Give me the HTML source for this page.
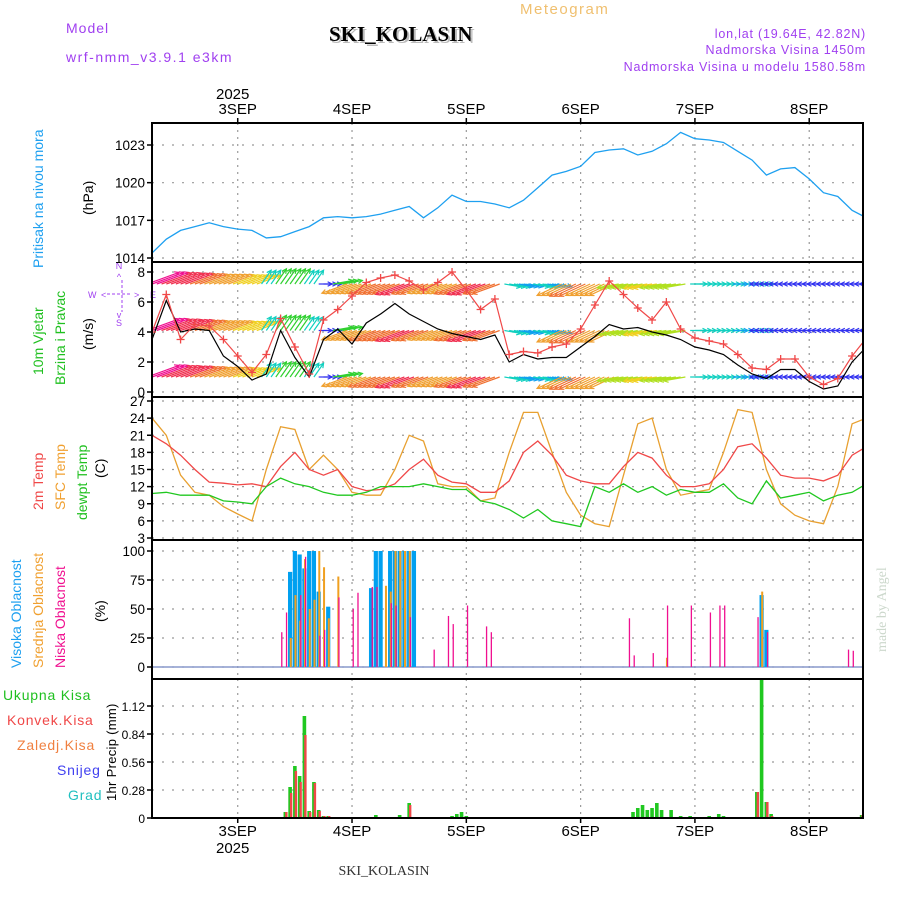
<!DOCTYPE html>
<html><head><meta charset="utf-8"><style>
body{margin:0;background:#fff}
svg{display:block;font-family:"Liberation Sans",sans-serif}
</style></head><body>
<svg id="chart" width="900" height="900" viewBox="0 0 900 900" xmlns="http://www.w3.org/2000/svg">
<text x="66" y="33" font-size="14" fill="#a040f0" letter-spacing="1">Model</text>
<text x="66" y="62" font-size="14" fill="#a040f0" letter-spacing="1.5">wrf-nmm_v3.9.1 e3km</text>
<text x="520" y="14" font-size="15" fill="#f0c070" letter-spacing="1.5">Meteogram</text>
<text x="331" y="43" font-size="21" font-weight="bold" fill="#bbb" font-family="Liberation Serif,serif">SKI_KOLASIN</text>
<text x="329" y="41" font-size="21" font-weight="bold" fill="#000" font-family="Liberation Serif,serif">SKI_KOLASIN</text>
<text x="866" y="38" font-size="12.5" fill="#a040f0" text-anchor="end" letter-spacing="0.8">lon,lat (19.64E, 42.82N)</text>
<text x="866" y="54" font-size="12.5" fill="#a040f0" text-anchor="end" letter-spacing="0.8">Nadmorska Visina 1450m</text>
<text x="866" y="71" font-size="12.5" fill="#a040f0" text-anchor="end" letter-spacing="0.8">Nadmorska Visina u modelu 1580.58m</text>
<text x="216" y="99" font-size="15" fill="#000">2025</text>
<text x="216" y="853" font-size="15" fill="#000">2025</text>
<text x="384" y="875" font-size="14" fill="#333" text-anchor="middle" font-family="Liberation Serif,serif">SKI_KOLASIN</text>
<text transform="translate(886,652) rotate(-90)" font-size="14" fill="#ccd8cc" font-family="Liberation Serif,serif">made by Angel</text>
<g>
<text transform="translate(43,268) rotate(-90)" font-size="14" fill="#1ea0f0">Pritisak na nivou mora</text>
<text transform="translate(93,215) rotate(-90)" font-size="14" fill="#000">(hPa)</text></g>
<g>
<text transform="translate(43,375) rotate(-90)" font-size="14" fill="#20c020">10m Vjetar</text>
<text transform="translate(65,385) rotate(-90)" font-size="14" fill="#20c020">Brzina i Pravac</text>
<text transform="translate(93,350) rotate(-90)" font-size="14" fill="#000">(m/s)</text></g>
<g fill="#a040f0" font-size="9" stroke="none">
<text x="119" y="269" text-anchor="middle">N</text><text x="119" y="326" text-anchor="middle">S</text>
<text x="88" y="298">W</text><text x="150" y="298">E</text>
<text x="119" y="280" text-anchor="middle">^</text><text x="119" y="318" text-anchor="middle">v</text>
<text x="101" y="298">&lt;</text><text x="134" y="298">&gt;</text>
<line x1="107" y1="294" x2="132" y2="294" stroke="#a040f0" stroke-dasharray="3,2"/>
<line x1="122" y1="280" x2="122" y2="312" stroke="#a040f0" stroke-dasharray="3,2"/></g>
<g>
<text transform="translate(43,510) rotate(-90)" font-size="14" fill="#f04848">2m Temp</text>
<text transform="translate(65,510) rotate(-90)" font-size="14" fill="#f0a030">SFC Temp</text>
<text transform="translate(87,520) rotate(-90)" font-size="14" fill="#20c020">dewpt Temp</text>
<text transform="translate(105,478) rotate(-90)" font-size="14" fill="#000">(C)</text></g>
<g>
<text transform="translate(21,668) rotate(-90)" font-size="14" fill="#1ea0f0">Visoka Oblacnost</text>
<text transform="translate(43,668) rotate(-90)" font-size="14" fill="#f0a030">Srednja Oblacnost</text>
<text transform="translate(65,668) rotate(-90)" font-size="14" fill="#f01090">Niska Oblacnost</text>
<text transform="translate(105,622) rotate(-90)" font-size="14" fill="#000">(%)</text></g>
<g font-size="14" letter-spacing="0.8">
<text x="3" y="700" fill="#20c020">Ukupna Kisa</text>
<text x="7" y="725" fill="#f04848">Konvek.Kisa</text>
<text x="17" y="750" fill="#f08040">Zaledj.Kisa</text>
<text x="57" y="775" fill="#4040f0">Snijeg</text>
<text x="68" y="800" fill="#20c0c0">Grad</text>
<text transform="translate(116,801) rotate(-90)" fill="#000" font-size="13" letter-spacing="0.3">1hr Precip (mm)</text></g>
<g id="plots"></g>
</svg>
<script>
// ---- data (3-hourly, index 0 = 2 Sep 06h) ----
const dayLabels=["3SEP","4SEP","5SEP","6SEP","7SEP","8SEP"];
const pressure=[1014.4,1015.5,1016.2,1016.5,1016.8,1016.5,1016.3,1016.2,1015.6,1015.7,1016.1,1016.5,1017.2,1017.3,1017.2,1017.3,1017.5,1017.8,1018.1,1017.2,1018.0,1019.0,1018.5,1018.5,1018.3,1018.0,1018.6,1019.6,1020.6,1020.9,1021.3,1022.4,1022.6,1022.7,1022.2,1022.5,1023.1,1024.0,1023.5,1023.4,1023.2,1022.5,1021.8,1020.6,1021.1,1021.2,1020.3,1019.2,1018.9,1017.8,1017.2];
const windSpeed=[3.5,6.1,4.0,4.2,4.1,2.4,1.7,0.8,1.2,4.1,2.3,1.0,3.5,4.2,3.2,4.6,5.2,5.9,5.2,4.7,4.2,3.9,3.7,3.5,3.8,2.0,2.5,2.2,2.3,2.3,3.0,3.7,4.5,4.2,4.3,4.0,3.8,3.5,3.0,2.8,2.5,1.8,1.2,0.9,1.5,1.5,0.7,0.2,0.4,2.0,3.0];
const windGust=[4.0,6.5,3.5,4.5,4.4,3.5,2.4,1.3,2.5,4.9,3.0,1.2,4.8,5.5,6.4,7.3,7.6,7.8,7.4,6.8,7.3,8.0,6.8,5.5,6.2,2.5,2.7,2.6,3.0,3.2,4.2,5.8,7.4,6.5,5.6,4.8,6.0,4.2,3.6,3.4,3.2,2.5,1.6,1.5,2.2,2.2,1.0,0.5,0.9,2.4,3.6];
const windToward=[20,20,20,20,20,20,20,20,55,55,55,55,0,10,200,200,200,200,200,200,200,200,200,200,200,-10,-10,-10,-10,205,205,205,205,190,190,190,190,190,0,0,0,0,0,180,180,180,180,180,180,180,180];
const windArrowSpeed=[14,13,12,11,10,10,9,9,4,5,5,4,2,6,10,10,11,11,12,11,10,10,11,12,11,4,3,4,3,10,11,10,10,7,7,8,7,7,4,4,4,3,4,1,1,1,1,1,1,1,1];
const windRows=[7.2,4.1,1.0];
const temp2m=[21,19.5,17.5,15,12.8,12.6,12.3,12.5,12,15.5,18,15,14,15,12,11.3,11.5,12.5,15,16.8,14,12.8,12.5,11,11,13,18,20,17.5,14,13,12.5,12.5,15.5,18,17,14,12,12,12.5,15,19,19.5,17,14,13.5,13.5,13,14,17.5,19];
const tempSfc=[24,21,14,11,10.5,8.5,7.2,6,15,22.5,22,15,17.5,15,11,10.5,10.5,15,21,20,12.5,12,12,9.5,10,18,25,25,18,11,7,5.5,5,14,23,24,15,10.5,11,11.5,18,25.5,25,15,9,7,6,5.5,12,23,24];
const dewpt=[10.8,11,10.5,10.5,10.5,9.5,9.3,9,12,13.5,12.5,12,11,10.5,10.5,11,12,12,12,12.5,12,11.5,11.5,9.5,9,8,6.5,8,6,5.5,5,12,11,12.5,11,12,10.5,11.5,11,11,12.5,10,9,13,10,10.5,11,9.5,10.5,11,12.5];
// hourly (hour index from 2 Sep 06h)
const cloudHours=[27,28,29,30,31,32,33,34,35,36,37,39,42,43,46,47,48,49,50,51,52,53,54,55,59,62,63,66,70,71,100,101,105,108,113,117,119,120,127,128,129,146,147,149];
const cloudHigh=[0,0,82,100,97,85,100,100,65,0,52,0,0,0,68,100,100,0,100,100,100,100,100,100,0,0,0,0,0,0,0,0,0,0,0,0,0,0,0,62,32,0,0,0];
const cloudMid=[0,0,25,62,40,93,50,58,100,86,42,78,0,0,0,0,0,70,65,100,100,100,100,0,0,0,0,0,0,0,0,0,0,8,0,0,0,0,0,65,0,0,0,0];
const cloudLow=[30,47,0,0,62,95,0,0,27,32,0,60,50,64,69,69,0,0,55,53,0,0,43,0,15,44,37,53,35,30,42,10,12,53,53,47,53,53,43,0,30,15,14,20];
const precipHours=[28,29,30,31,32,33,34,35,36,37,47,49,52,54,59,63,64,65,66,101,102,103,104,105,106,107,109,111,113,117,119,120,127,128,129,130,149];
const precipTotal=[0.06,0.31,0.52,0.42,1.02,0.07,0.36,0.08,0.02,0.02,0.03,0.01,0.03,0.15,0.01,0.02,0.04,0.06,0.02,0.06,0.10,0.13,0.08,0.10,0.15,0.08,0.08,0.02,0.02,0.02,0.04,0.02,0.26,1.40,0.16,0.04,0.03];
const precipConv=[0.06,0.25,0.47,0.36,0.83,0.06,0.35,0.07,0.02,0.02,0,0,0,0.13,0,0,0,0,0,0,0,0,0,0,0,0,0,0,0,0,0,0,0.26,0,0.16,0.02,0.03];
const pTicks=[1014,1017,1020,1023], wTicks=[0,2,4,6,8], tTicks=[3,6,9,12,15,18,21,24,27], cTicks=[0,25,50,75,100], rTicks=[0,0.28,0.56,0.84,1.12];

// ---- layout ----
const NS="http://www.w3.org/2000/svg";
const X0=152,X1=863,PXH=114.3/24;
const xh=h=>X0+h*PXH;
const xi=i=>xh(i*3);
const dayX=d=>xh(18+24*d);
const g=document.getElementById('plots');
function mk(tag,attrs,parent){const e=document.createElementNS(NS,tag);for(const k in attrs)e.setAttribute(k,attrs[k]);(parent||g).appendChild(e);return e;}
function lin(v0,p0,v1,p1){return v=>p0+(v-v0)*(p1-p0)/(v1-v0);}
const panels=[
 {name:'pressure',top:123,bot:262,y:lin(1014,258,1023,145),ticks:pTicks,fmt:v=>v,fs:13.5},
 {name:'wind',top:262,bot:397,y:lin(0,392,8,272),ticks:wTicks,fmt:v=>v,fs:13.5},
 {name:'temperature',top:397,bot:540,y:lin(3,538,27,401),ticks:tTicks,fmt:v=>v,fs:13.5},
 {name:'cloud',top:540,bot:679,y:lin(0,667,100,551),ticks:cTicks,fmt:v=>v,fs:13.5},
 {name:'precip',top:679,bot:818,y:lin(0,818,1.12,706),ticks:rTicks,fmt:v=>v===0?'0':v.toFixed(2),fs:12},
];
panels.forEach(p=>{
 const pg=mk('g',{});
 
 
 p.g=pg;
 const clip=mk('clipPath',{id:'clip-'+p.name},pg);
 mk('rect',{x:X0,y:p.top,width:X1-X0,height:p.bot-p.top},clip);
 dayLabels.forEach((d,i)=>{const l=mk('line',{x1:dayX(i),x2:dayX(i),y1:p.top,y2:p.bot,stroke:'#999','stroke-dasharray':'2,5','stroke-width':1.2},pg);
  });
 p.ticks.forEach(t=>{const y=p.y(t);
  const gl=mk('line',{x1:X0,x2:X1,y1:y,y2:y,stroke:'#999','stroke-dasharray':'2,8','stroke-width':1.2},pg);
  
  mk('line',{x1:X0-5,x2:X0,y1:y,y2:y,stroke:'#000','stroke-width':1.5},pg);
  const tx=mk('text',{x:X0-7,y:y+5,'font-size':p.fs,'text-anchor':'end',fill:'#000'},pg);tx.textContent=p.fmt(t);
  });
 p.plot=mk('g',{'clip-path':'url(#clip-'+p.name+')'},pg);
});
function frame(p){const r=mk('rect',{x:X0,y:p.top,width:X1-X0,height:p.bot-p.top,fill:'none',stroke:'#000','stroke-width':2},p.g);
 }
function line(p,arr,color,name,w){const d=arr.map((v,i)=>(i?'L':'M')+xi(i).toFixed(1)+','+p.y(v).toFixed(1)).join('');
 const e=mk('path',{d,fill:'none',stroke:color,'stroke-width':w||1.3},p.plot);return e;}
// pressure
line(panels[0],pressure,'#1ea0f0','pressure-line');
// wind arrows
function hue(s){const c=['#8020f0','#3030f0','#10a0f0','#10d0c0','#30d030','#b0e020','#f0d020','#f0a030','#f07030','#f03050','#f01090'];return c[Math.max(0,Math.min(10,Math.round(s*10/14)))];}
const P2=panels[1];
windRows.forEach((r,ri)=>{windToward.forEach((a,i)=>{
 const s=windArrowSpeed[i],len=10+s*1.7,col=hue(s),rad=a*Math.PI/180;
 for(let k=0;k<3;k++){
  const x0=xi(i)+k*PXH-PXH,y0=P2.y(r);
  const x1=x0+len*Math.cos(rad),y1=y0-len*Math.sin(rad);
  const ar=mk('g',{stroke:col,'stroke-width':1.2,fill:'none'},P2.plot);
  
  
  mk('line',{x1:x0,y1:y0,x2:x1,y2:y1},ar);
  const b1=rad+Math.PI*0.85,b2=rad-Math.PI*0.85;
  mk('path',{d:`M${x1+5*Math.cos(b1)},${y1-5*Math.sin(b1)}L${x1},${y1}L${x1+5*Math.cos(b2)},${y1-5*Math.sin(b2)}`},ar);
 }});});
line(P2,windSpeed,'#000','wind-speed-line',1.2);
line(P2,windGust,'#f04848','wind-gust-line',1.2);
windGust.forEach((v,i)=>{const x=xi(i),y=P2.y(v);
 const m=mk('path',{d:`M${x-4},${y}H${x+4}M${x},${y-4}V${y+4}`,stroke:'#f04848','stroke-width':1.3},P2.plot);
 });
// temps
const P3=panels[2];
line(P3,tempSfc,'#e8a030','sfc-temp-line');
line(P3,temp2m,'#f04848','temp-2m-line');
line(P3,dewpt,'#20c820','dewpoint-line');
// clouds
const P4=panels[3];
const base=mk('line',{x1:X0,x2:X1,y1:P4.y(0),y2:P4.y(0),stroke:'#8899cc','stroke-width':1.5},P4.plot);

cloudHours.forEach((h,i)=>{const x=xh(h);
 [[cloudHigh,'#00a0f0',4.2,0],[cloudMid,'#f0a020',2,0.6],[cloudLow,'#f01090',1.3,1.2]].forEach(([arr,c,w,off])=>{
  const v=arr[i];if(!v)return;const y=P4.y(v);
  const b=mk('rect',{x:x-w/2+off,y,width:w,height:P4.y(0)-y,fill:c},P4.plot);
  });});
// precip
const P5=panels[4];
precipHours.forEach((h,i)=>{const x=xh(h);
 if(precipTotal[i]){const y=P5.y(precipTotal[i]);const b=mk('rect',{x:x-1.8,y,width:3.6,height:P5.y(0)-y,fill:'#20c820'},P5.plot);
  }
 if(precipConv[i]){const y=P5.y(precipConv[i]);const b=mk('rect',{x:x-0.2,y,width:2.4,height:P5.y(0)-y,fill:'#f04848'},P5.plot);
  }});
panels.forEach(frame);
// x labels
dayLabels.forEach((d,i)=>{const x=dayX(i);
 const t=mk('text',{x,y:114,'font-size':15,'text-anchor':'middle',fill:'#000'});t.textContent=d;
 
 const b=mk('text',{x,y:836,'font-size':15,'text-anchor':'middle',fill:'#000'});b.textContent=d;
 
 mk('line',{x1:x,x2:x,y1:118,y2:123,stroke:'#000','stroke-width':1.5});
 mk('line',{x1:x,x2:x,y1:818,y2:823,stroke:'#000','stroke-width':1.5});});
</script>
</body></html>
